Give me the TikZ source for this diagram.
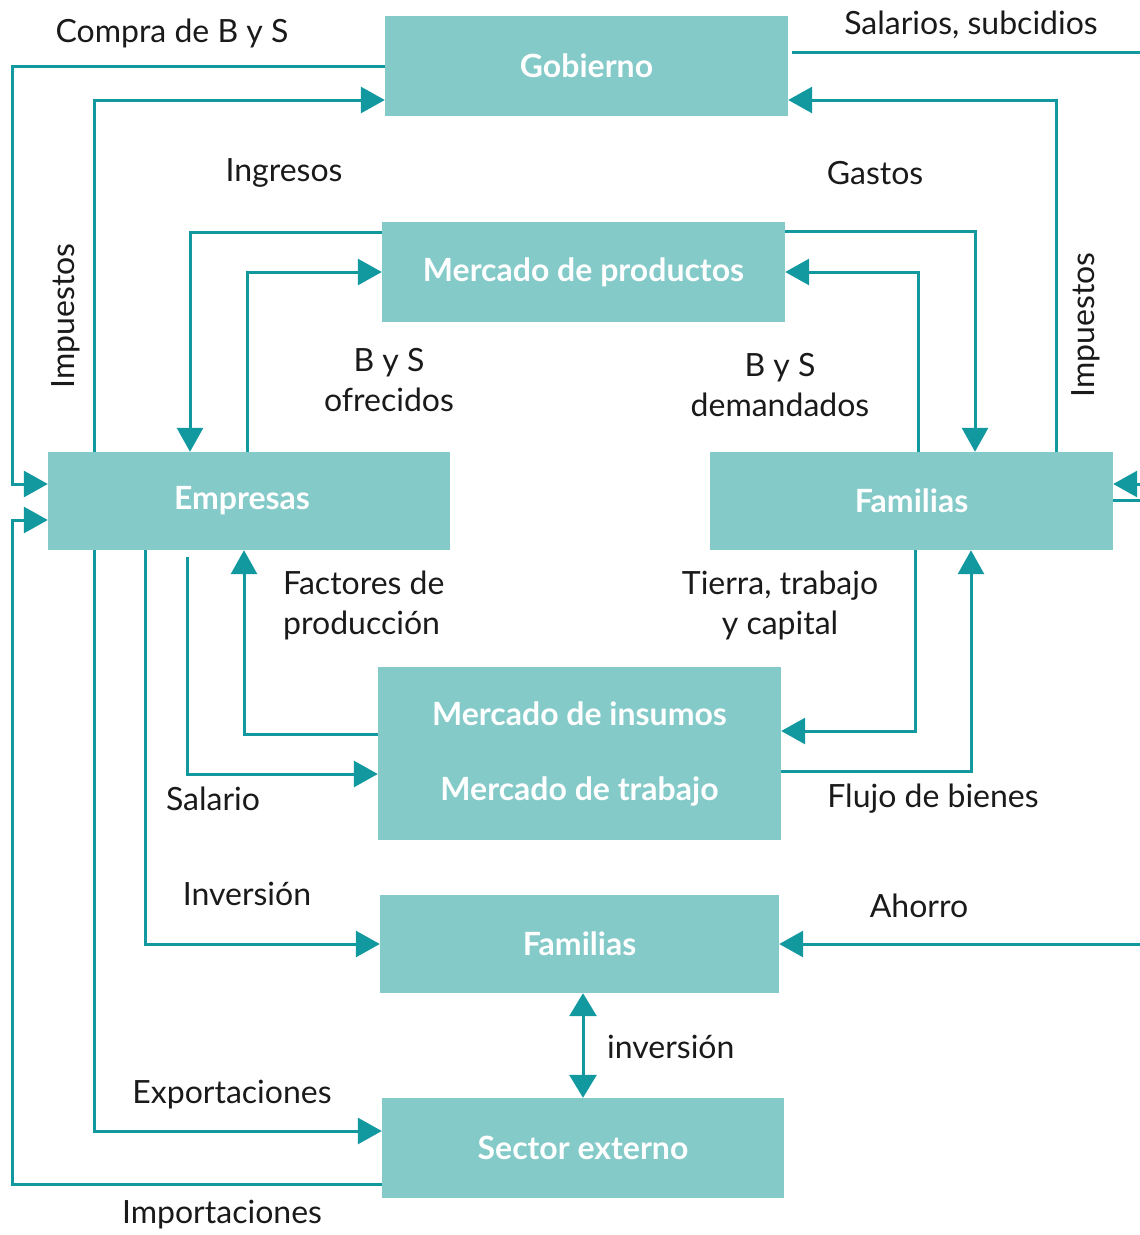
\documentclass[tikz,border=0pt]{standalone}
\usepackage{fontspec}
\setmainfont{Lato}
\usetikzlibrary{arrows.meta,calc}
\definecolor{boxc}{HTML}{83CAC8}
\definecolor{linec}{HTML}{12999F}
\definecolor{txtc}{HTML}{1A1A1A}
\begin{document}
\begin{tikzpicture}[x=1pt,y=-1pt,
  box/.style={fill=boxc,draw=none,text=white,font=\fontsize{32}{34}\selectfont\bfseries,inner sep=0pt},
  lab/.style={text=txtc,font=\fontsize{32}{40}\selectfont,inner sep=0pt},
  conn/.style={draw=linec,line width=3pt},
  arr/.style={conn,-{Triangle[length=24pt,width=26pt]}},
  arrr/.style={conn,{Triangle[length=23pt,width=27pt]}-{Triangle[length=23pt,width=27pt]}}]
\useasboundingbox (0,0) rectangle (1140,1235);
% boxes
\node[box,minimum width=403pt,minimum height=100pt] (gob) at (586.5,66) {Gobierno};
\node[box,minimum width=403pt,minimum height=100pt] (mp) at (583.5,272) {Mercado de productos};
\node[box,minimum width=402pt,minimum height=98pt] (emp) at (249,501) {\hspace*{-14pt}Empresas};
\node[box,minimum width=403pt,minimum height=98pt] (fam) at (911.5,501) {Familias};
\node[box,minimum width=403pt,minimum height=173pt,align=center] (mi) at (579.5,753.5) {Mercado de insumos\\[41pt]Mercado de trabajo};
\node[box,minimum width=399pt,minimum height=98pt] (faml) at (579.5,944) {Familias};
\node[box,minimum width=402pt,minimum height=100pt] (se) at (583,1148) {Sector externo};
% connectors
\draw[arr] (gob.west) -- (12,66) |- ($(emp.west)+(0,-17)$);
\draw[arr] (emp.north -| 94,0) |- ($(gob.west)+(0,34)$);
\coordinate (gs) at ($(gob.east)+(4,-14)$);
\draw[arr] (gs) -- (1160,52) |- ($(fam.east)+(0,-17)$);
\draw[arr] (fam.north -| 1056,0) |- ($(gob.east)+(0,34)$);
\draw[arr] ($(mp.west)+(0,-40)$) -| (emp.north -| 190,0);
\draw[arr] (emp.north -| 247,0) |- (mp.west);
\draw[arr] ($(mp.east)+(0,-41)$) -| (fam.north -| 975,0);
\draw[arr] (fam.north -| 918,0) |- (mp.east);
\draw[arr] (mi.west |- 0,734) -| (emp.south -| 244,0);
\coordinate (es) at ($(emp.south -| 187,0)+(0,7)$);
\draw[arr] (es) |- (mi.west |- 0,774);
\draw[arr] (fam.south -| 915,0) |- (mi.east |- 0,731);
\draw[arr] (mi.east |- 0,771) -| (fam.south -| 971,0);
\draw[arr] (emp.south -| 145,0) |- (faml.west);
\draw[arr] (fam.east |- 0,500) -- (1170,500) |- (faml.east);
\draw[arrr] (faml.south -| 583,0) -- (se.north -| 583,0);
\draw[arr] (emp.south -| 94,0) |- (se.west |- 0,1131);
\draw[arr] (se.west |- 0,1184) -- (12,1184) |- ($(emp.west)+(0,19)$);
% labels
\node[lab] (l1) at (172,33) {Compra de B y S};
\node[lab] (l2) at (971,25) {Salarios, subcidios};
\node[lab] (l3) at (284,173) {Ingresos};
\node[lab] (l4) at (875,173) {Gastos};
\node[lab,rotate=90] (l5) at (66,316) {Impuestos};
\node[lab,rotate=90] (l6) at (1086,325) {Impuestos};
\node[lab,align=center] (l7) at (389,380) {B y S\\ofrecidos};
\node[lab,align=center] (l8) at (780,385) {B y S\\demandados};
\node[lab,align=left,anchor=west] (l9) at (283,605) {Factores de\\producción};
\node[lab,align=center] (l10) at (780,605) {Tierra, trabajo\\y capital};
\node[lab] (l11) at (213,799) {Salario};
\node[lab] (l12) at (933,799) {Flujo de bienes};
\node[lab] (l13) at (247,894) {Inversión};
\node[lab] (l14) at (919,906) {Ahorro};
\node[lab,anchor=west] (l15) at (607,1047) {inversión};
\node[lab] (l16) at (232,1095) {Exportaciones};
\node[lab] (l17) at (222,1215) {Importaciones};
\end{tikzpicture}
\end{document}
